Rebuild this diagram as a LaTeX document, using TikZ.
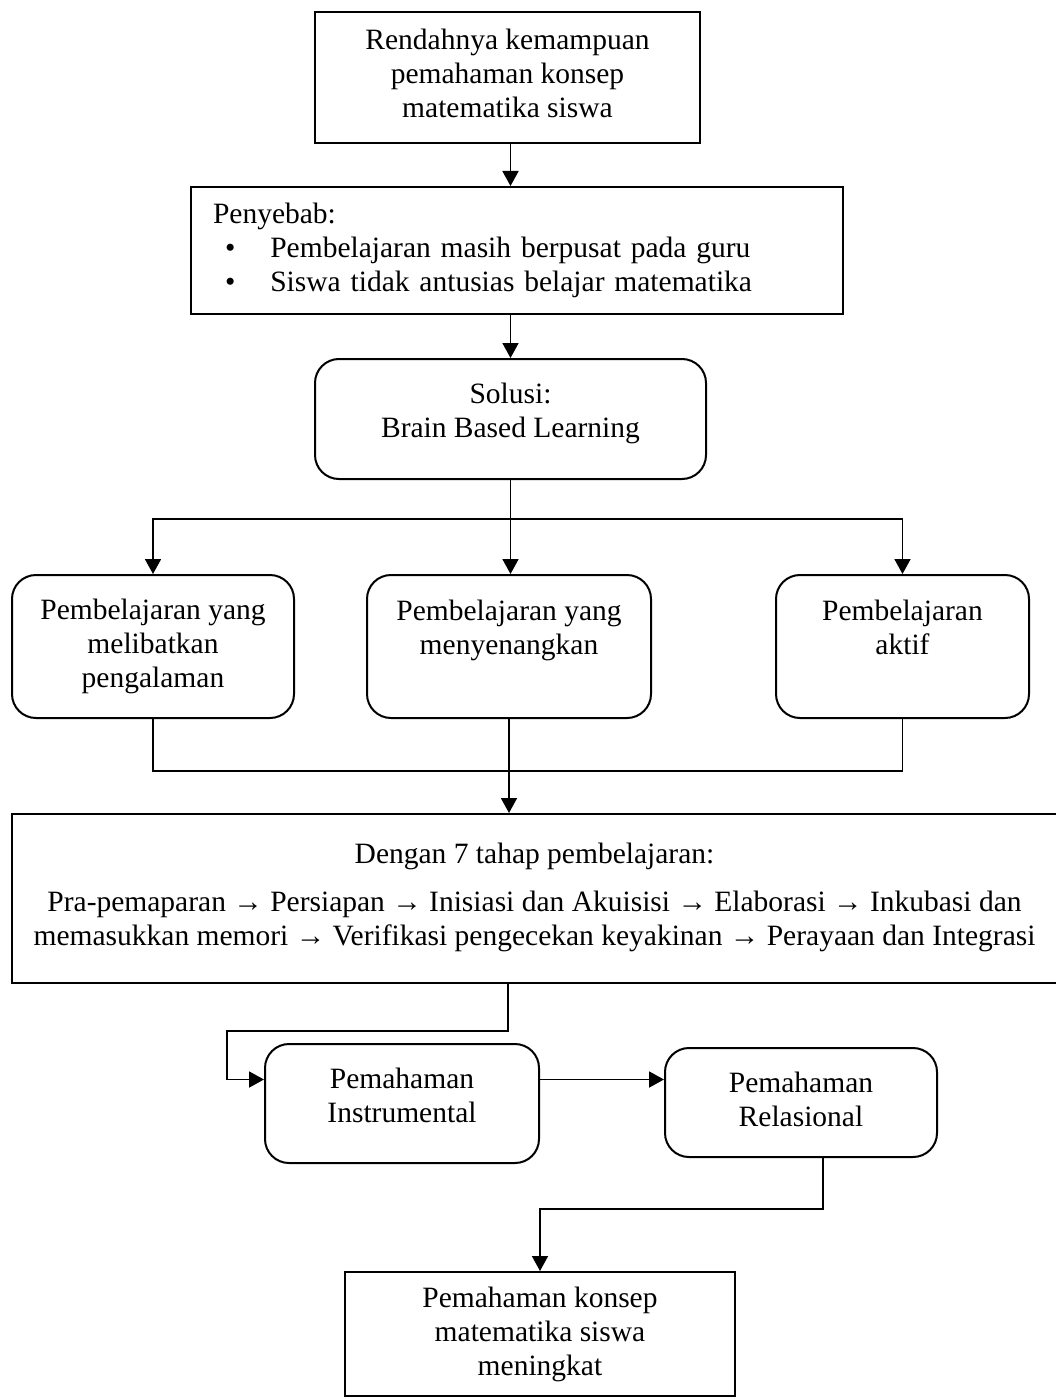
\documentclass[tikz,border=0pt]{standalone}
\usepackage{fontspec}
\setmainfont{Liberation Serif}
\usetikzlibrary{arrows.meta}

\begin{document}
\begin{tikzpicture}[x=1pt,y=-1pt,
        kotak/.style={draw,line width=2pt,inner sep=0pt,align=center,font=\fontsize{29.5pt}{34pt}\selectfont},
        bulat/.style={kotak,rounded corners=24pt},
        panah/.style={line width=1.8pt,-{Triangle[width=16pt,length=15pt]}},
        garis/.style={line width=1.8pt}]
        \useasboundingbox (0,0) rectangle (1056,1399);

        \node[kotak,minimum width=385pt,minimum height=131pt,text depth=8pt] (masalah) at (507.5,77.5) {Rendahnya kemampuan\\pemahaman konsep\\matematika siswa};
        \node[kotak,align=left,text width=608pt,inner xsep=22pt,minimum height=127pt] (penyebab) at (517,250.5) {Penyebab:\\\hspace*{12pt}\textbullet\hspace{35pt}Pembelajaran masih berpusat pada guru\\\hspace*{12pt}\textbullet\hspace{35pt}Siswa tidak antusias belajar matematika};
        \node[bulat,minimum width=391pt,minimum height=120pt,text depth=18pt] (solusi) at (510.5,419) {Solusi:\\Brain Based Learning};

        \node[bulat,minimum width=282pt,minimum height=143pt] (pengalaman) at (153,646.5) {Pembelajaran yang\\melibatkan\\pengalaman};
        \node[bulat,minimum width=284pt,minimum height=143pt,text depth=39pt] (senang) at (509,646.5) {Pembelajaran yang\\menyenangkan};
        \node[bulat,minimum width=253pt,minimum height=143pt,text depth=39pt] (aktif) at (902.5,646.5) {Pembelajaran\\aktif};

        \node[kotak,minimum width=1045pt,minimum height=169pt,text depth=9pt] (tahap) at (534.5,898.5) {Dengan 7 tahap pembelajaran:\\[14pt]Pra-pemaparan → Persiapan → Inisiasi dan Akuisisi → Elaborasi → Inkubasi dan\\memasukkan memori → Verifikasi pengecekan keyakinan → Perayaan dan Integrasi};

        \node[bulat,minimum width=274pt,minimum height=119pt,text depth=17pt] (instrumental) at (402,1103.5) {Pemahaman\\Instrumental};
        \node[bulat,minimum width=272pt,minimum height=109pt,text depth=7pt] (relasional) at (801,1102.5) {Pemahaman\\Relasional};
        \node[kotak,minimum width=390pt,minimum height=124pt] (meningkat) at (540,1334) {Pemahaman konsep\\matematika siswa\\meningkat};

        % alur atas
        \draw[panah] (solusi.north |- masalah.south) -- (solusi.north |- penyebab.north);
        \draw[panah] (solusi.north |- penyebab.south) -- (solusi.north);
        \draw[panah] (solusi.south) -- (solusi.south |- senang.north);
        \coordinate (cabang) at (510.5,519);
        \draw[panah] (cabang) -| (pengalaman.north);
        \draw[panah] (cabang) -| (aktif.north);

        % gabung ke tahap
        \coordinate (gabung) at (509,771);
        \draw[garis] (pengalaman.south) |- (gabung) -| (aktif.south);
        \draw[panah] (senang.south) -- (senang.south |- tahap.north);

        % alur bawah
        \coordinate (belok1) at (508,1031);
        \coordinate (belok2) at (227,1031);
        \draw[panah] (belok1 |- tahap.south) -- (belok1) -- (belok2) |- ([yshift=24pt]instrumental.west);
        \draw[panah] ([yshift=24pt]instrumental.east) -- ([yshift=24pt]instrumental.east -| relasional.west);
        \draw[panah] ([xshift=22pt]relasional.south) -- ++(0,51) -| (meningkat.north);
    \end{tikzpicture}
\end{document}
